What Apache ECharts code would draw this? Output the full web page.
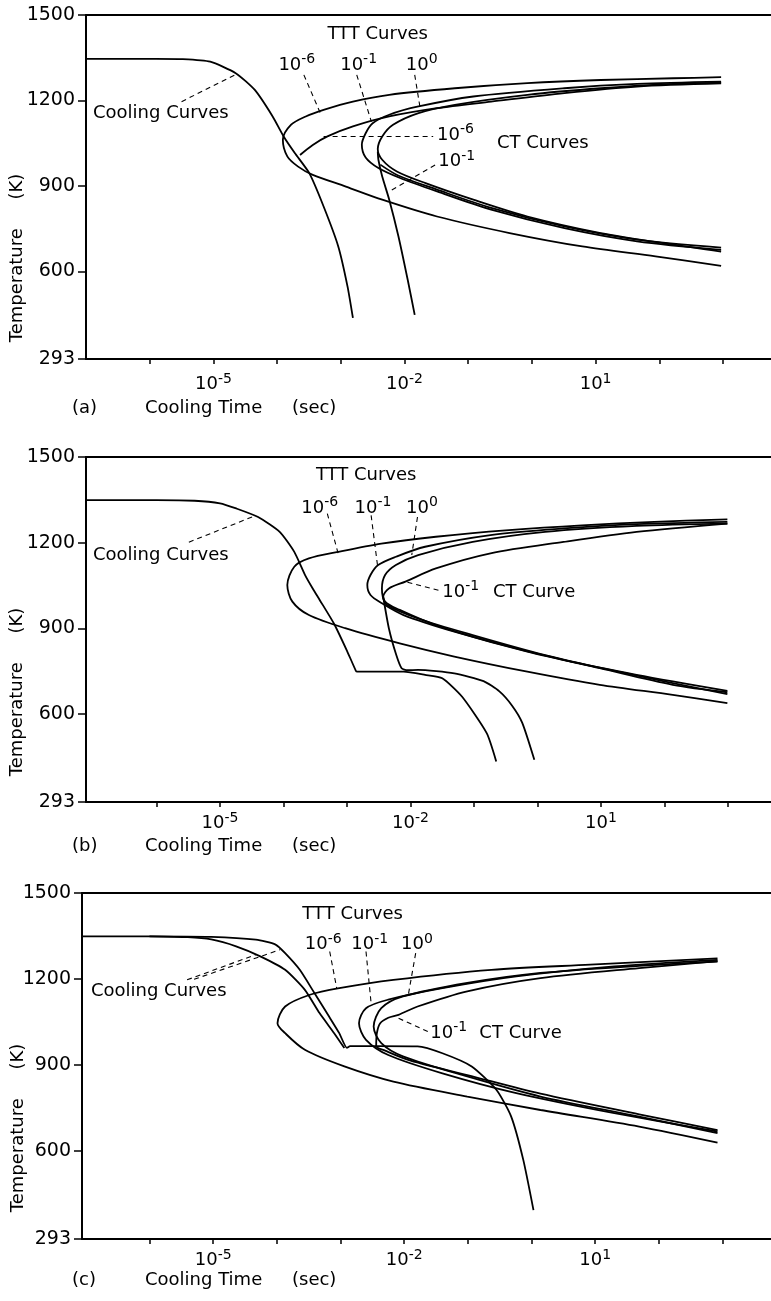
<!DOCTYPE html>
<html>
<head>
<meta charset="utf-8">
<script src="https://cdn.jsdelivr.net/npm/echarts@6/dist/echarts.min.js"></script>
<style>
  html, body { margin: 0; padding: 0; background: #fff; }
  #chart { width: 771px; height: 1301px; }
</style>
</head>
<body>
<div id="chart"></div>
<script>
// x values are log10(cooling time / s), y values are temperature in K

// ---- panel (a) ----
const aCool1 = [[-7, 1346], [-5.9, 1346], [-5.48, 1345], [-5.05, 1336], [-4.65, 1296], [-4.35, 1237], [-4.07, 1144], [-3.895, 1073], [-3.72, 1015], [-3.495, 945], [-3.27, 828], [-3.04, 688], [-2.895, 548], [-2.81, 437]];
const aCool2 = [[-2.42, 1020], [-2.41, 992], [-2.35, 933], [-2.24, 852], [-2.095, 723], [-1.95, 571], [-1.84, 448]];
const aTTT6 = [[2.97, 1282], [2.22, 1278], [1.08, 1272], [-0.07, 1261], [-1.21, 1243], [-2.24, 1220], [-2.81, 1196], [-3.27, 1167], [-3.55, 1144], [-3.78, 1115], [-3.91, 1062], [-3.84, 1004], [-3.67, 968], [-3.44, 939], [-2.92, 898], [-2.35, 852], [-1.49, 793], [-0.35, 735], [0.79, 688], [1.94, 653], [2.97, 620]];
const aTTT1 = [[2.97, 1266], [1.65, 1258], [0.51, 1243], [-0.92, 1214], [-1.78, 1179], [-2.24, 1150], [-2.5, 1120], [-2.61, 1085], [-2.67, 1045], [-2.61, 1000], [-2.41, 963], [-2.07, 928], [-1.49, 881], [-0.64, 817], [0.51, 752], [1.65, 706], [2.97, 676]];
const aTTT0 = [[2.97, 1263], [2.22, 1258], [1.08, 1243], [-0.07, 1220], [-1.21, 1185], [-1.78, 1156], [-2.18, 1115], [-2.35, 1074], [-2.42, 1030], [-2.35, 992], [-2.12, 951], [-1.67, 910], [-0.92, 852], [-0.07, 793], [1.08, 735], [2.22, 694], [2.97, 670]];
const aCT6 = [[-3.64, 1009], [-3.44, 1044], [-3.21, 1074], [-2.81, 1109], [-2.24, 1144], [-1.49, 1173], [-0.64, 1196], [0.51, 1226], [1.65, 1249], [2.97, 1260]];
const aCT1 = [[-2.38, 975], [-2.1, 937], [-1.5, 888], [-0.64, 823], [0.51, 758], [1.65, 712], [2.97, 684]];

// ---- panel (b) ----
const bCool1 = [[-7.11, 1349], [-6, 1349], [-5.4, 1347], [-5.0, 1338], [-4.745, 1320], [-4.4, 1290], [-4.06, 1238], [-3.83, 1168], [-3.66, 1087], [-3.54, 1040], [-3.43, 1000], [-3.2, 915], [-3.0, 822], [-2.86, 752], [-2.84, 749], [-2.5, 749], [-2.11, 749], [-1.77, 738], [-1.5, 726], [-1.19, 662], [-0.8, 534], [-0.65, 435]];
const bCool2 = [[-2.43, 1011], [-2.34, 900], [-2.225, 808], [-2.14, 761], [-2.05, 754], [-1.88, 755], [-1.31, 743], [-0.85, 716], [-0.6, 680], [-0.4, 630], [-0.24, 570], [-0.05, 441]];
const bTTT6 = [[2.99, 1282], [1.84, 1273], [0.7, 1261], [-0.45, 1244], [-1.6, 1221], [-2.46, 1197], [-3.14, 1168], [-3.6, 1145], [-3.83, 1116], [-3.94, 1052], [-3.86, 994], [-3.6, 947], [-3.03, 901], [-2.17, 848], [-1.31, 802], [-0.16, 749], [0.98, 703], [2.13, 668], [2.99, 639]];
const bTTT1 = [[2.99, 1273], [1.56, 1265], [0.41, 1250], [-0.74, 1227], [-1.77, 1186], [-2.23, 1151], [-2.51, 1122], [-2.63, 1087], [-2.68, 1052], [-2.63, 1017], [-2.45, 988], [-2.11, 947], [-1.31, 889], [-0.16, 819], [0.98, 761], [2.13, 703], [2.99, 677]];
const bTTT0 = [[2.99, 1267], [1.56, 1259], [0.12, 1238], [-1.02, 1203], [-1.88, 1157], [-2.23, 1122], [-2.4, 1087], [-2.45, 1040], [-2.4, 994], [-2.17, 965], [-1.6, 912], [-0.74, 854], [0.41, 790], [1.56, 738], [2.99, 682]];
const bCT1 = [[2.99, 1267], [1.56, 1238], [0.41, 1203], [-0.74, 1163], [-1.6, 1110], [-2.08, 1064], [-2.34, 1040], [-2.43, 1011], [-2.37, 982], [-1.88, 935], [-1.02, 877], [0.12, 807], [1.27, 749], [2.99, 670]];

// ---- panel (c) ----
const cCool1 = [[-7.06, 1349], [-6, 1349], [-5.03, 1347], [-4.33, 1337], [-4.02, 1320], [-3.87, 1290], [-3.64, 1232], [-3.41, 1151], [-3.18, 1069], [-3.02, 1011], [-2.9, 960], [-2.85, 966], [-2.4, 966], [-1.79, 965], [-1.4, 941], [-0.94, 895], [-0.55, 813], [-0.32, 720], [-0.13, 569], [0.03, 394]];
const cCool2 = [[-6, 1349], [-5.4, 1346], [-5.03, 1338], [-4.64, 1314], [-4.26, 1279], [-3.87, 1232], [-3.56, 1162], [-3.33, 1081], [-3.1, 1011], [-2.94, 959]];
const cTTT6 = [[2.92, 1272], [0.92, 1250], [-0.63, 1232], [-2.17, 1197], [-3.02, 1168], [-3.48, 1145], [-3.87, 1104], [-3.99, 1046], [-3.87, 1011], [-3.56, 953], [-2.94, 895], [-2.17, 842], [-1.01, 790], [0.14, 743], [1.69, 685], [2.92, 629]];
const cTTT1 = [[2.92, 1267], [1.3, 1244], [-0.24, 1209], [-1.4, 1168], [-2.25, 1128], [-2.6, 1098], [-2.71, 1046], [-2.6, 988], [-2.25, 935], [-1.4, 871], [-0.24, 802], [1.3, 732], [2.92, 668]];
const cTTT0 = [[2.92, 1261], [1.69, 1246], [0.14, 1221], [-1.01, 1186], [-2.02, 1139], [-2.36, 1098], [-2.48, 1034], [-2.36, 976], [-2.02, 930], [-1.01, 860], [0.14, 790], [1.69, 720], [2.92, 662]];
const cCT1 = [[2.92, 1262], [1.69, 1238], [0.14, 1203], [-1.01, 1157], [-1.79, 1104], [-2.09, 1075], [-2.25, 1065], [-2.38, 1045], [-2.43, 1010], [-2.44, 966], [-2.3, 950], [-1.9, 915], [-1.01, 865], [0.14, 800], [1.69, 728], [2.92, 673]];

// dashed leader lines [[x1, y1], [x2, y2]]
const aLeaders = [
  [[-5.50, 1196], [-4.66, 1290]],
  [[-3.58, 1290], [-3.32, 1155]],
  [[-2.75, 1290], [-2.52, 1126]],
  [[-1.84, 1290], [-1.75, 1167]],
  [[-3.27, 1075], [-1.55, 1075]],
  [[-1.52, 974], [-2.24, 881]]
];
const bLeaders = [
  [[-5.49, 1202], [-4.44, 1295]],
  [[-3.31, 1302], [-3.14, 1163]],
  [[-2.62, 1296], [-2.52, 1122]],
  [[-1.89, 1290], [-1.98, 1157]],
  [[-1.56, 1034], [-2.07, 1063]]
];
const cLeaders = [
  [[-5.41, 1197], [-4.33, 1285]],
  [[-5.30, 1199], [-3.95, 1302]],
  [[-3.17, 1296], [-3.06, 1168]],
  [[-2.60, 1296], [-2.52, 1116]],
  [[-1.82, 1290], [-1.94, 1139]],
  [[-1.63, 1017], [-2.09, 1063]]
];

// text notes: [x, y, text] (left edge, vertical middle)
const aNotes = [
  [-6.89, 1156, 'Cooling Curves'],
  [-3.21, 1433, 'TTT Curves'],
  [-3.98, 1325, '{b|10}{s|-6}'],
  [-3.01, 1325, '{b|10}{s|-1}'],
  [-1.98, 1325, '{b|10}{s|0}'],
  [-1.49, 1079, '{b|10}{s|-6}'],
  [-0.55, 1050, 'CT Curves'],
  [-1.47, 986, '{b|10}{s|-1}']
];
const bNotes = [
  [-7.0, 1157, 'Cooling Curves'],
  [-3.49, 1436, 'TTT Curves'],
  [-3.72, 1321, '{b|10}{s|-6}'],
  [-2.88, 1321, '{b|10}{s|-1}'],
  [-2.07, 1321, '{b|10}{s|0}'],
  [-1.50, 1028, '{b|10}{s|-1}'],
  [-0.70, 1028, 'CT Curve']
];
const cNotes = [
  [-6.92, 1156, 'Cooling Curves'],
  [-3.60, 1424, 'TTT Curves'],
  [-3.56, 1320, '{b|10}{s|-6}'],
  [-2.83, 1320, '{b|10}{s|-1}'],
  [-2.05, 1320, '{b|10}{s|0}'],
  [-1.59, 1011, '{b|10}{s|-1}'],
  [-0.82, 1011, 'CT Curve']
];

const xTicks = [-6, -5, -4, -3, -2, -1, 0, 1, 2, 3];
const xLabels = [-5, -2, 1];
const yTicks = [293, 600, 900, 1200, 1500];
const panelNames = ['(a)', '(b)', '(c)'];

const FONT = 'DejaVu Sans';
const INK = '#000';

const panels = [
  { curves: [aCool1, aCool2, aTTT6, aTTT1, aTTT0, aCT6, aCT1], leaders: aLeaders, notes: aNotes,
    grid: { left: 86, top: 15, right: 0, height: 344 }, xMin: -7, xMax: 3.753, titleY: 408, yTitleY: 258, yTitleX: 17, labelGap: 13 },
  { curves: [bCool1, bCool2, bTTT6, bTTT1, bTTT0, bCT1], leaders: bLeaders, notes: bNotes,
    grid: { left: 86, top: 457, right: 0, height: 345 }, xMin: -7.11, xMax: 3.677, titleY: 846, yTitleY: 692, yTitleX: 17, labelGap: 9 },
  { curves: [cCool1, cCool2, cTTT6, cTTT1, cTTT0, cCT1], leaders: cLeaders, notes: cNotes,
    grid: { left: 82, top: 893, right: 0, height: 346 }, xMin: -7.06, xMax: 3.76, titleY: 1280, yTitleY: 1128, yTitleX: 18, labelGap: 9 }
];

const rich = {
  b: { fontSize: 18, fontFamily: FONT, color: INK },
  s: { fontSize: 14, fontFamily: FONT, color: INK, padding: [0, 0, 11, 0] }
};

const grid = [], xAxis = [], yAxis = [], series = [], graphics = [];

panels.forEach(function (p, i) {
  grid.push(p.grid);
  xAxis.push({
    gridIndex: i, type: 'value', min: p.xMin, max: p.xMax,
    axisLine: { show: true, onZero: false, lineStyle: { color: INK, width: 2 } },
    axisTick: { show: true, customValues: xTicks, length: 5, lineStyle: { color: INK, width: 1.5 } },
    axisLabel: {
      customValues: xLabels, margin: p.labelGap,
      formatter: function (v) { return '{b|10}{s|' + v + '}'; },
      rich: rich
    },
    splitLine: { show: false }
  });
  yAxis.push({
    gridIndex: i, type: 'value', min: 293, max: 1500,
    axisLine: { show: true, onZero: false, lineStyle: { color: INK, width: 2 } },
    axisTick: { show: true, customValues: yTicks, length: 8, lineStyle: { color: INK, width: 1.5 } },
    axisLabel: {
      customValues: yTicks, margin: 11, fontSize: 19, fontFamily: FONT, color: INK,
      formatter: function (v) { return String(v); }
    },
    splitLine: { show: false }
  });

  p.curves.forEach(function (c, k) {
    series.push({
      type: 'line', xAxisIndex: i, yAxisIndex: i, data: c,
      showSymbol: false, smooth: k < 2 ? 0.2 : 0.3, silent: true,
      lineStyle: { color: INK, width: 1.8 }
    });
  });

  series.push({
    type: 'lines', coordinateSystem: 'cartesian2d', xAxisIndex: i, yAxisIndex: i, silent: true,
    data: p.leaders.map(function (c) { return { coords: c }; }),
    lineStyle: { color: INK, width: 1.1, type: [5, 4], opacity: 1 }
  });

  series.push({
    type: 'scatter', xAxisIndex: i, yAxisIndex: i, silent: true,
    symbolSize: 0, itemStyle: { color: INK },
    data: p.notes.map(function (n) {
      return { value: [n[0], n[1]], label: { formatter: n[2] } };
    }),
    label: {
      show: true, position: 'right', distance: 0, opacity: 1,
      fontSize: 18, fontFamily: FONT, color: INK, rich: rich
    }
  });

  // axis titles
  const tfont = '18px "DejaVu Sans"';
  graphics.push({
    type: 'text', x: 72, y: p.titleY,
    style: { text: panelNames[i], font: tfont, fill: INK, textVerticalAlign: 'middle' }
  });
  graphics.push({
    type: 'text', x: 145, y: p.titleY,
    style: { text: 'Cooling Time', font: tfont, fill: INK, textVerticalAlign: 'middle' }
  });
  graphics.push({
    type: 'text', x: 292, y: p.titleY,
    style: { text: '(sec)', font: tfont, fill: INK, textVerticalAlign: 'middle' }
  });
  graphics.push({
    type: 'text', x: p.yTitleX, y: p.yTitleY, rotation: Math.PI / 2,
    style: { text: 'Temperature     (K)', font: tfont, fill: INK, textAlign: 'center', textVerticalAlign: 'middle' }
  });
});

// top frame lines
panels.forEach(function (p, i) {
  xAxis.push({
    gridIndex: i, type: 'value', position: 'top', min: p.xMin, max: p.xMax,
    axisLine: { show: true, onZero: false, lineStyle: { color: INK, width: 2 } },
    axisTick: { show: false }, axisLabel: { show: false }, splitLine: { show: false }
  });
});

const chart = echarts.init(document.getElementById('chart'), null, { renderer: 'canvas' });
chart.setOption({
  animation: false,
  backgroundColor: '#fff',
  grid: grid,
  xAxis: xAxis,
  yAxis: yAxis,
  series: series,
  graphic: graphics
});
</script>
</body>
</html>
